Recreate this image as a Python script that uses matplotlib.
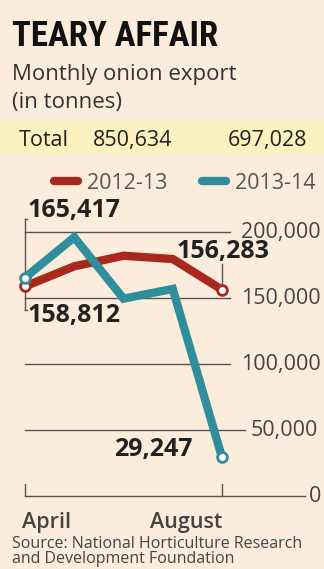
import matplotlib
matplotlib.use("Agg")
import matplotlib.pyplot as plt

months = ["April", "May", "June", "July", "August"]
exp_1213 = [158812, 174000, 182000, 179539, 156283]
exp_1314 = [165417, 196000, 149500, 156864, 29247]
totals = ["850,634", "697,028"]
yticks = [0, 50000, 100000, 150000, 200000]
ytick_labels = ["0", "50,000", "100,000", "150,000", "200,000"]

W, H = 324, 569
bg = "#fbecdc"
red = "#a8281e"
teal = "#2f8d9c"

fig = plt.figure(figsize=(W / 100, H / 100), dpi=100, facecolor=bg)

def fx(px):
    return px / W

def fy(py):
    return 1 - py / H

narrow = ["Roboto Condensed", "DejaVu Sans"]
plain = ["Open Sans", "DejaVu Sans"]

# header
fig.text(fx(12), fy(46), "TEARY AFFAIR", fontsize=25, fontweight="bold",
         family=narrow, color="#111111", va="baseline")
fig.text(fx(12), fy(80), "Monthly onion export", fontsize=16,
         family=plain, color="#333333", va="baseline")
fig.text(fx(12), fy(108), "(in tonnes)", fontsize=16,
         family=plain, color="#333333", va="baseline")

# total band
band = plt.Rectangle((0, fy(154)), 1, (154 - 120) / H, transform=fig.transFigure,
                     facecolor="#fdf1c0", edgecolor="none")
fig.patches.append(band)
fig.text(fx(19), fy(146), "Total", fontsize=15.5, family=plain, color="#222222", va="baseline")
fig.text(fx(93), fy(146), totals[0], fontsize=15.5, family=plain, color="#222222", va="baseline")
fig.text(fx(228), fy(146), totals[1], fontsize=15.5, family=plain, color="#222222", va="baseline")

# legend
for x0, col, lab in [(54, red, "2012-13"), (202, teal, "2013-14")]:
    fig.lines.append(plt.Line2D([fx(x0), fx(x0 + 24)], [fy(181), fy(181)],
                                transform=fig.transFigure, color=col, lw=6,
                                solid_capstyle="round"))
    fig.text(fx(x0 + 33), fy(189), lab, fontsize=15.5, family=plain,
             color="#555555", va="baseline")

# chart axes: April at px 25, August at px 222; 0 at py 496, 66 px per 50,000
ax_l, ax_r, ax_t, ax_b = 10, 324, 195, 505
ax = fig.add_axes([fx(ax_l), fy(ax_b), (ax_r - ax_l) / W, (ax_b - ax_t) / H])
ax.set_facecolor("none")
step = (222 - 25) / 4
ax.set_xlim((ax_l - 25) / step, (ax_r - 25) / step)
ypx = 66 / 50000
ax.set_ylim(-(ax_b - 496) / ypx, (496 - ax_t) / ypx)
ax.axis("off")

x = list(range(len(months)))
grid_end = {0: 305, 50000: 245, 100000: 230, 150000: 230, 200000: 230}
label_x = {0: 309, 50000: 251, 100000: 241, 150000: 241, 200000: 241}
for v, lab in zip(yticks, ytick_labels):
    ax.plot([0, (grid_end[v] - 25) / step], [v, v], color="#555555", lw=1, zorder=1)
    ax.text((label_x[v] - 25) / step, v, lab, fontsize=15.5, family=plain,
            color="#444444", va="center", ha="left")

# small ticks on baseline
for xi in [0, 4]:
    ax.plot([xi, xi], [0, 9000], color="#555555", lw=1, zorder=1)

ax.plot(x, exp_1213, color=red, lw=6, solid_joinstyle="round", zorder=3)
ax.plot(x, exp_1314, color=teal, lw=6, solid_joinstyle="miter", zorder=4)
for series, col in [(exp_1213, red), (exp_1314, teal)]:
    ax.plot([x[0], x[-1]], [series[0], series[-1]], "o", ms=7, mfc="white",
            mec=col, mew=2, zorder=5)

# value callouts
ax.plot([0, 0], [exp_1314[0], 210000], color="#555555", lw=1, zorder=2)
ax.plot([0, 0.05], [210000, 210000], color="#555555", lw=1, zorder=2)
ax.plot([0, 0], [exp_1213[0], 141000], color="#555555", lw=1, zorder=2)
ax.plot([0, 0.05], [141000, 141000], color="#555555", lw=1, zorder=2)
ax.plot([4, 4], [exp_1213[4], 176000], color="#555555", lw=1, zorder=2)
bold = dict(fontsize=18, fontweight="bold", family=plain, color="#222222")
ax.text(0.05, 216000, "165,417", va="center", ha="left", **bold)
ax.text(0.05, 137000, "158,812", va="center", ha="left", **bold)
ax.text(4.02, 185500, "156,283", va="center", ha="center", **bold)
ax.text(2.6, 35000, "29,247", va="center", ha="center", **bold)

ax.text(-0.06, -12000, months[0], fontsize=15.5, fontweight="semibold", family=plain,
        color="#444444", va="top", ha="left")
ax.text(4, -12000, months[4], fontsize=15.5, fontweight="semibold", family=plain,
        color="#444444", va="top", ha="right")

fig.text(fx(12), fy(567), "Source: National Horticulture Research\nand Development Foundation",
         fontsize=11.5, family=plain, color="#444444", va="bottom", ha="left",
         linespacing=0.9)

fig.savefig("out.png", dpi=100, facecolor=bg)
